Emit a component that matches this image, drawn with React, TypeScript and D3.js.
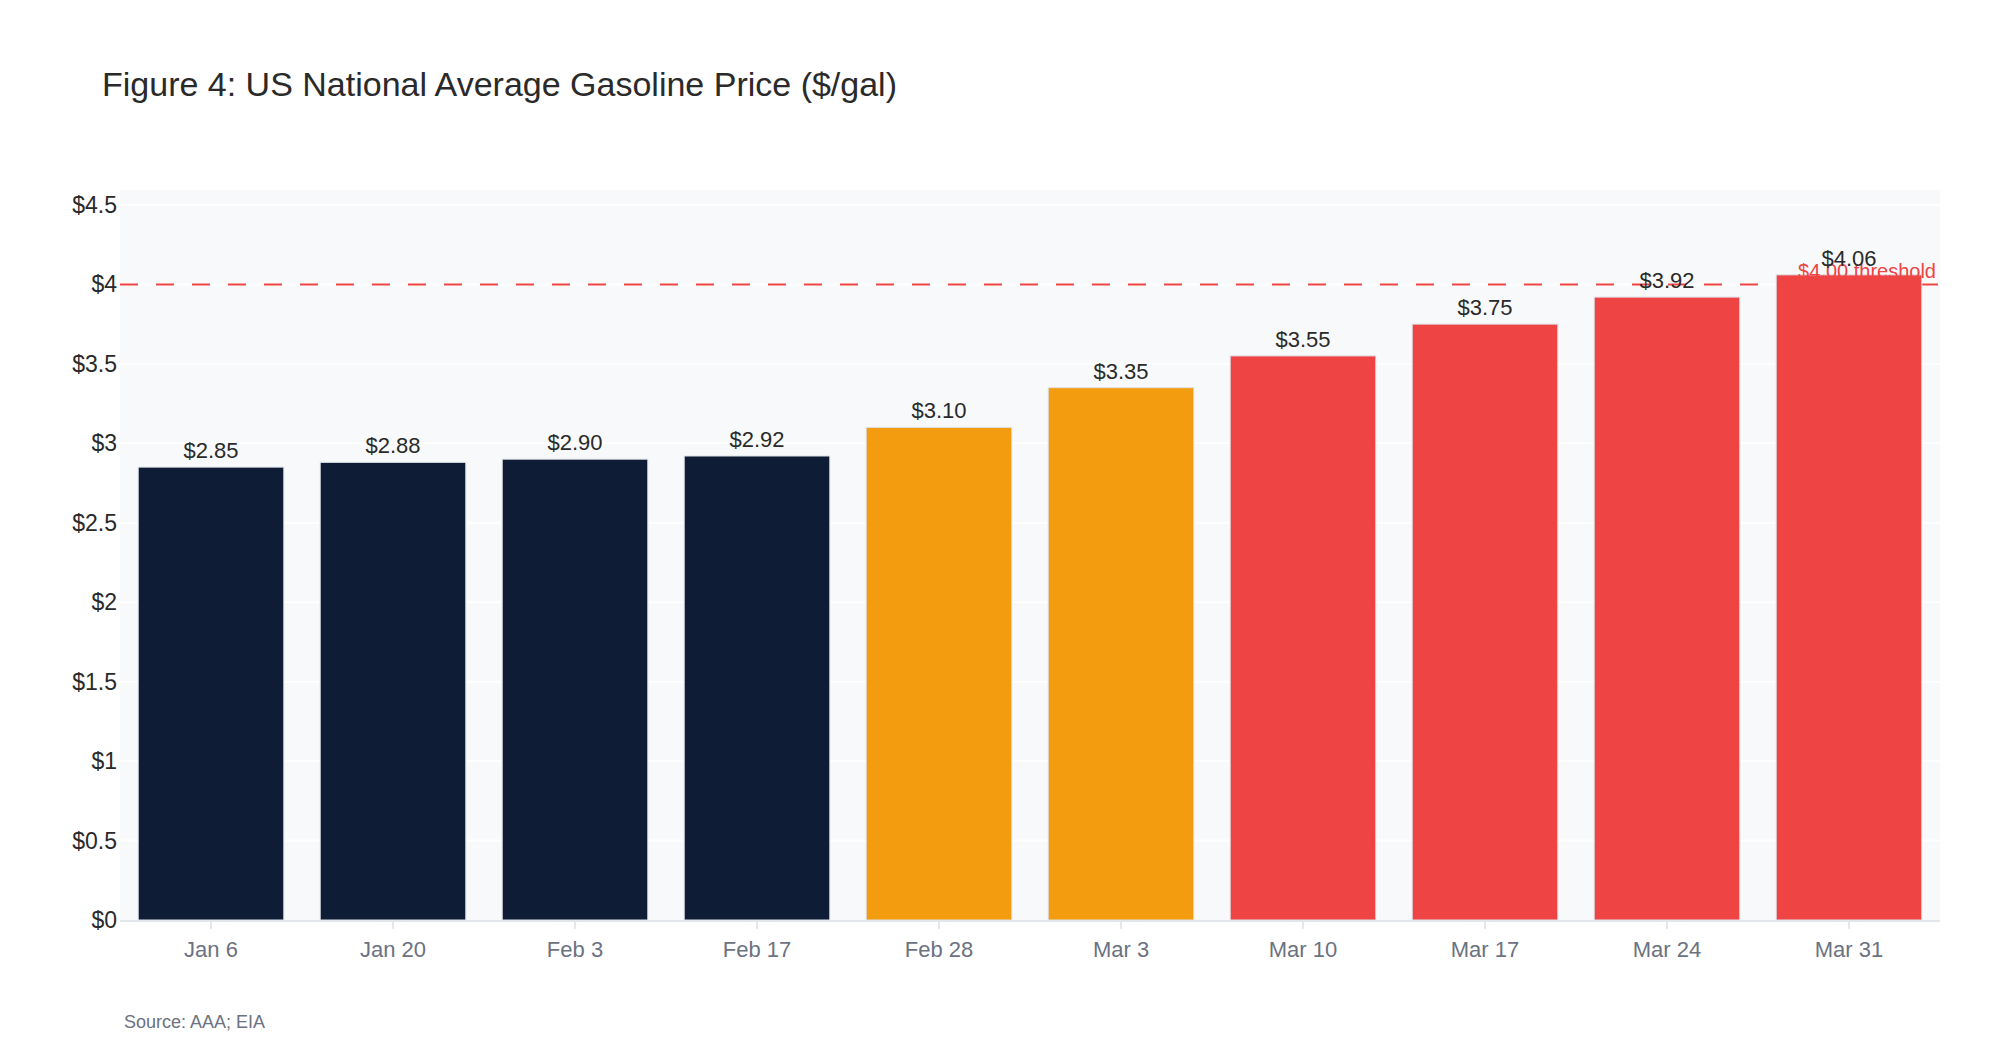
import React from "react";
import * as d3 from "d3";

const DATES = ["Jan 6", "Jan 20", "Feb 3", "Feb 17", "Feb 28", "Mar 3", "Mar 10", "Mar 17", "Mar 24", "Mar 31"];
const PRICES = [2.85, 2.88, 2.9, 2.92, 3.1, 3.35, 3.55, 3.75, 3.92, 4.06];
const PHASES = ["base", "base", "base", "base", "rising", "rising", "spike", "spike", "spike", "spike"];
const Y_TICKS = [0, 0.5, 1, 1.5, 2, 2.5, 3, 3.5, 4, 4.5];
const THRESHOLD = 4.0;

const PHASE_COLOR: Record<string, string> = {
  base: "#0f1c35",
  rising: "#f39c0f",
  spike: "#ef4444",
};

const WIDTH = 2000;
const HEIGHT = 1060;
const LEFT = 120;
const RIGHT = 1940;
const TOP = 190;
const BOTTOM = 920;
const FONT = "'Liberation Sans', Arial, Helvetica, sans-serif";

const fmtTick = (v: number) => "$" + d3.format("~g")(v);
const fmtVal = (v: number) => "$" + v.toFixed(2);

export default function App() {
  const x = d3
    .scaleBand<string>()
    .domain(DATES)
    .range([LEFT, RIGHT])
    .paddingInner(0.2)
    .paddingOuter(0.1);
  const y = d3.scaleLinear().domain([0, 4.594]).range([BOTTOM, TOP]);

  return (
    <svg
      width={WIDTH}
      height={HEIGHT}
      style={{ position: "absolute", left: 0, top: 0, background: "#fff" }}
      fontFamily={FONT}
    >
      <text x={102} y={96} fontSize={34} fill="#2a2a2a">
        Figure 4: US National Average Gasoline Price ($/gal)
      </text>

      {/* plot area */}
      <rect x={LEFT} y={TOP} width={RIGHT - LEFT} height={BOTTOM - TOP} fill="#f8f9fa" />

      {Y_TICKS.map((t) => (
        <g key={t}>
          {t > 0 && (
            <line x1={LEFT} x2={RIGHT} y1={y(t)} y2={y(t)} stroke="#ffffff" strokeWidth={2} />
          )}
          <text x={117} y={y(t)} dy="0.35em" textAnchor="end" fontSize={23} fill="#2a2a2a">
            {fmtTick(t)}
          </text>
        </g>
      ))}

      {/* threshold line (under bars) */}
      <line
        x1={LEFT}
        x2={RIGHT}
        y1={y(THRESHOLD)}
        y2={y(THRESHOLD)}
        stroke="#ef4444"
        strokeWidth={2}
        strokeDasharray="18,18"
      />

      {DATES.map((d, i) => (
        <rect
          key={d}
          x={x(d)}
          y={y(PRICES[i])}
          width={x.bandwidth()}
          height={BOTTOM - y(PRICES[i])}
          fill={PHASE_COLOR[PHASES[i]]}
          stroke="#dde1e8"
          strokeWidth={1}
        />
      ))}

      {/* x axis */}
      <line x1={LEFT} x2={RIGHT} y1={BOTTOM + 1} y2={BOTTOM + 1} stroke="#e3e6eb" strokeWidth={2} />
      {DATES.map((d) => {
        const cx = (x(d) as number) + x.bandwidth() / 2;
        return (
          <g key={d}>
            <line x1={cx} x2={cx} y1={BOTTOM + 1} y2={BOTTOM + 9} stroke="#e3e6eb" strokeWidth={2} />
            <text x={cx} y={957} textAnchor="middle" fontSize={22} fill="#6b7280">
              {d}
            </text>
          </g>
        );
      })}

      {/* threshold annotation */}
      <text x={1936} y={278} textAnchor="end" fontSize={20} fill="#ef4444">
        $4.00 threshold
      </text>

      {DATES.map((d, i) => (
        <text
          key={d}
          x={(x(d) as number) + x.bandwidth() / 2}
          y={y(PRICES[i]) - 9}
          textAnchor="middle"
          fontSize={22}
          fill="#2a2a2a"
        >
          {fmtVal(PRICES[i])}
        </text>
      ))}

      <text x={124} y={1028} fontSize={18} fill="#6b7280">
        Source: AAA; EIA
      </text>
    </svg>
  );
}
